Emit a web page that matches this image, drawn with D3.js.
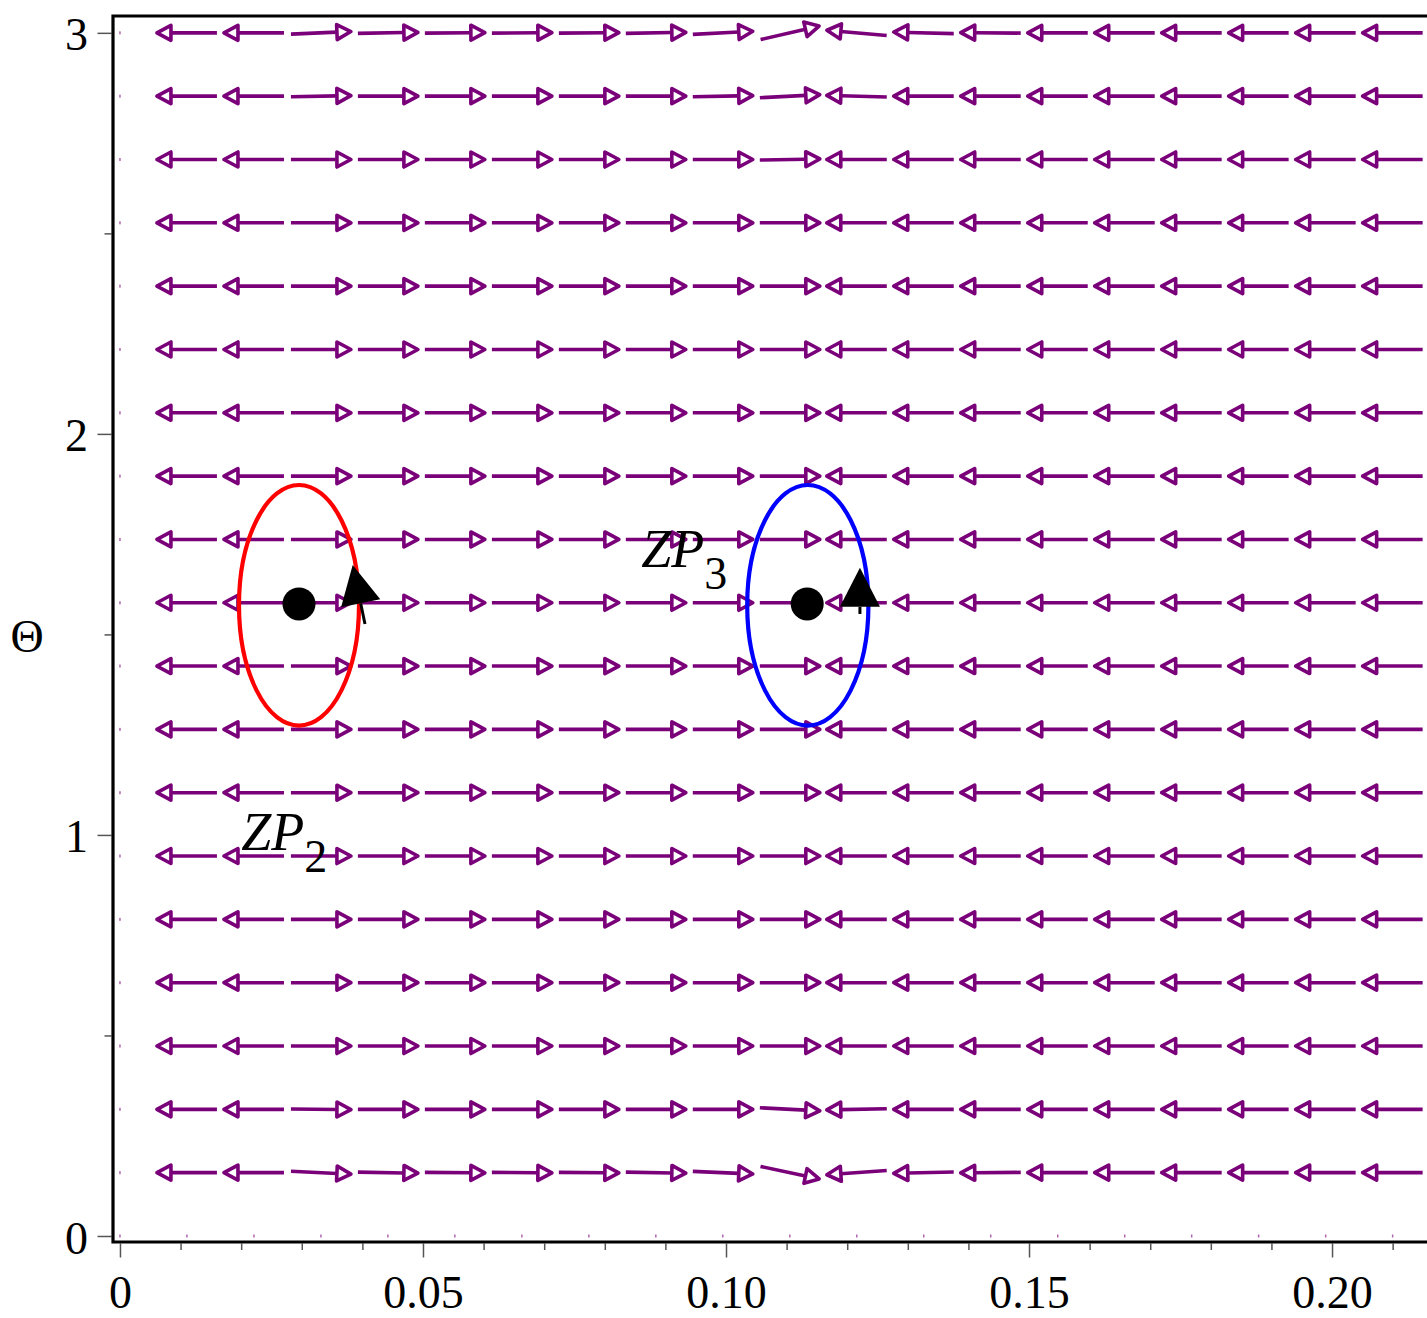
<!DOCTYPE html>
<html lang="en">
<head>
<meta charset="utf-8"/>
<title>Phase portrait ZP2 / ZP3</title>
<script src="https://cdn.jsdelivr.net/npm/d3@7"></script>
<style>
  body { margin: 0; background: #fff; }
  svg { display: block; font-family: "Liberation Serif", "Times New Roman", serif; }
</style>
</head>
<body>
<svg id="chart"></svg>
<script>
const width = 1427
const height = 1318

// grid of the direction field
const xGrid = [0, 0.01105, 0.02211, 0.03316, 0.04421, 0.05526, 0.06632, 0.07737, 0.08842, 0.09947,
               0.11053, 0.12158, 0.13263, 0.14368, 0.15474, 0.16579, 0.17684, 0.18789, 0.19895, 0.21]
const thetaGrid = [0, 0.1579, 0.3158, 0.4737, 0.6316, 0.7895, 0.9474, 1.1053, 1.2632, 1.4211,
                   1.5789, 1.7368, 1.8947, 2.0526, 2.2105, 2.3684, 2.5263, 2.6842, 2.8421, 3.0]
// horizontal sense of the arrows in each column (0 = zero vector, drawn as a dot)
const colDir = [0, -1, -1, 1, 1, 1, 1, 1, 1, 1, 1, -1, -1, -1, -1, -1, -1, -1, -1, -1]
// arrows that are not horizontal: [row, column, degrees] (+ = Theta grows)
const tilts = [
  [19, 3, 2.5], [19, 4, 1], [19, 5, 0.5], [19, 6, 0.5], [19, 7, 0.5], [19, 8, 1], [19, 9, 3],
  [19, 10, 13], [19, 11, 5], [19, 12, 1.5], [19, 13, 0.5],
  [18, 3, 1], [18, 9, 1], [18, 10, 3], [18, 11, 1.5],
  [17, 10, 1],
  [2, 3, -0.5], [2, 10, -3], [2, 11, -1],
  [1, 3, -2.8], [1, 4, -1], [1, 5, -0.5], [1, 6, -0.5], [1, 7, -0.5], [1, 8, -1], [1, 9, -2.5],
  [1, 10, -12], [1, 11, -4], [1, 12, -1.3], [1, 13, -0.5]
]

// closed orbits round the two centres
const orbits = [
  { name: 'ZP2', cx: 0.02954, ct: 1.5725, rx: 0.0099, rt: 0.3, color: '#ff0000' },
  { name: 'ZP3', cx: 0.1135, ct: 1.5725, rx: 0.01, rt: 0.3, color: '#0000ff' }
]
const centres = [
  { x: 0.02954, t: 1.576 },
  { x: 0.1134, t: 1.576 }
]
// direction arrows on the orbits: tail -> tip
const orbitArrows = [
  { x0: 0.04043, t0: 1.526, x1: 0.0384, t1: 1.673 },
  { x0: 0.1221, t0: 1.551, x1: 0.1221, t1: 1.666 }
]
const labels = [
  { x: 0.0200, t: 0.963, main: 'ZP', sub: '2' },
  { x: 0.0860, t: 1.669, main: 'ZP', sub: '3' }
]

const xTicks = [0, 0.05, 0.1, 0.15, 0.2]
const xMinor = [0.01, 0.02, 0.03, 0.04, 0.06, 0.07, 0.08, 0.09, 0.11, 0.12, 0.13, 0.14, 0.16, 0.17, 0.18, 0.19, 0.21]
const yTicks = [0, 1, 2, 3]
const yMinor = [0.5, 1.5, 2.5]

const svg = d3.select('#chart').attr('width', width).attr('height', height)

const x = d3.scaleLinear().domain([-0.00115, 0.21567]).range([113, 1427])
const y = d3.scaleLinear().domain([-0.015, 3.042]).range([1242, 16])

const purple = '#7a007a'
const arrowLen = 60

// tilt lookup
const tiltOf = {}
tilts.forEach(([r, c, deg]) => { tiltOf[r + '_' + c] = deg })

const cells = []
thetaGrid.forEach((t, r) => {
  xGrid.forEach((xv, c) => {
    cells.push({ r, c, x: xv, t })
  })
})

const field = svg.append('g')

// zero vectors -> dots
field.selectAll('rect.dot')
  .data(cells.filter(d => d.r === 0 || colDir[d.c] === 0))
  .enter()
  .append('rect')
  .attr('class', 'dot')
  .attr('x', d => x(d.x) - 0.75)
  .attr('y', d => y(d.t) - 1.5)
  .attr('width', 1.5)
  .attr('height', 3)
  .attr('fill', purple)
  .attr('opacity', 0.6)

function arrowGeom(d) {
  const deg = tiltOf[d.r + '_' + d.c] || 0
  const a = deg * Math.PI / 180
  const vx = colDir[d.c] * Math.cos(a)
  const vy = -Math.sin(a)
  const cx = x(d.x), cy = y(d.t)
  const tip = [cx + vx * arrowLen / 2, cy + vy * arrowLen / 2]
  const tail = [cx - vx * arrowLen / 2, cy - vy * arrowLen / 2]
  const base = [tip[0] - vx * 14, tip[1] - vy * 14]
  const nx = -vy, ny = vx
  return { tip, tail, base, nx, ny }
}

const arrows = field.selectAll('g.arrow')
  .data(cells.filter(d => d.r > 0 && colDir[d.c] !== 0))
  .enter()
  .append('g')
  .attr('class', 'arrow')

arrows.append('path')
  .attr('d', d => {
    const g = arrowGeom(d)
    return `M${g.tail[0]},${g.tail[1]}L${g.base[0]},${g.base[1]}`
  })
  .attr('stroke', purple)
  .attr('stroke-width', 3.6)
  .attr('fill', 'none')

arrows.append('path')
  .attr('d', d => {
    const g = arrowGeom(d)
    const h = 7.5
    return `M${g.tip[0]},${g.tip[1]}` +
      `L${g.base[0] + g.nx * h},${g.base[1] + g.ny * h}` +
      `L${g.base[0] - g.nx * h},${g.base[1] - g.ny * h}Z`
  })
  .attr('stroke', purple)
  .attr('stroke-width', 3.6)
  .attr('stroke-linejoin', 'round')
  .attr('fill', '#fff')

// orbits
svg.append('g')
  .selectAll('ellipse')
  .data(orbits)
  .enter()
  .append('ellipse')
  .attr('cx', d => x(d.cx))
  .attr('cy', d => y(d.ct))
  .attr('rx', d => x(d.cx + d.rx) - x(d.cx))
  .attr('ry', d => y(d.ct - d.rt) - y(d.ct))
  .attr('fill', 'none')
  .attr('stroke', d => d.color)
  .attr('stroke-width', 4.2)

svg.append('g')
  .selectAll('circle')
  .data(centres)
  .enter()
  .append('circle')
  .attr('cx', d => x(d.x))
  .attr('cy', d => y(d.t))
  .attr('r', 16.5)
  .attr('fill', '#000')

// orbit direction arrows
const oa = svg.append('g')
  .selectAll('g')
  .data(orbitArrows)
  .enter()
  .append('g')

function orbitGeom(d) {
  const t0 = [x(d.x0), y(d.t0)], t1 = [x(d.x1), y(d.t1)]
  const len = Math.hypot(t1[0] - t0[0], t1[1] - t0[1])
  const ux = (t1[0] - t0[0]) / len, uy = (t1[1] - t0[1]) / len
  const base = [t1[0] - ux * 39, t1[1] - uy * 39]
  return { t0, t1, ux, uy, base }
}

oa.append('path')
  .attr('d', d => {
    const g = orbitGeom(d)
    return `M${g.t0[0]},${g.t0[1]}L${g.base[0]},${g.base[1]}`
  })
  .attr('stroke', '#000')
  .attr('stroke-width', 3)

oa.append('path')
  .attr('d', d => {
    const g = orbitGeom(d)
    const nx = -g.uy, ny = g.ux, h = 20
    return `M${g.t1[0]},${g.t1[1]}` +
      `L${g.base[0] + nx * h},${g.base[1] + ny * h}` +
      `L${g.base[0] - nx * h},${g.base[1] - ny * h}Z`
  })
  .attr('fill', '#000')

// labels
const lab = svg.append('g')
  .selectAll('text')
  .data(labels)
  .enter()
  .append('text')
  .attr('x', d => x(d.x))
  .attr('y', d => y(d.t))
  .attr('fill', '#000')

lab.append('tspan')
  .attr('font-style', 'italic')
  .attr('font-size', 54)
  .text(d => d.main)

lab.append('tspan')
  .attr('x', d => x(d.x) + 63)
  .attr('dy', 22)
  .attr('font-size', 46)
  .text(d => d.sub)

// axes
const tickColor = '#555'
const xAxis = svg.append('g').attr('transform', 'translate(0,1243.5)')
xAxis.call(d3.axisBottom(x).tickValues(xTicks).tickSize(14)
  .tickFormat(d => d === 0 ? '0' : d3.format('.2f')(d)))
xAxis.select('.domain').remove()
xAxis.selectAll('line').attr('stroke', tickColor).attr('stroke-width', 1.5)
xAxis.selectAll('text')
  .attr('y', 64.5).attr('dy', null)
  .attr('fill', '#000')
  .style('font-family', '"Liberation Serif", serif')
  .style('font-size', '46px')

const xMinorAxis = svg.append('g').attr('transform', 'translate(0,1243.5)')
xMinorAxis.call(d3.axisBottom(x).tickValues(xMinor).tickSize(6.5).tickFormat(''))
xMinorAxis.select('.domain').remove()
xMinorAxis.selectAll('line').attr('stroke', tickColor).attr('stroke-width', 1.5)

const yAxis = svg.append('g').attr('transform', 'translate(111.5,0)')
yAxis.call(d3.axisLeft(y).tickValues(yTicks).tickSize(14).tickPadding(10).tickFormat(d3.format('d')))
yAxis.select('.domain').remove()
yAxis.selectAll('line').attr('stroke', tickColor).attr('stroke-width', 1.5)
yAxis.selectAll('text')
  .attr('dy', '0.37em')
  .attr('x', -23.5)
  .attr('fill', '#000')
  .style('font-family', '"Liberation Serif", serif')
  .style('font-size', '46px')

const yMinorAxis = svg.append('g').attr('transform', 'translate(111.5,0)')
yMinorAxis.call(d3.axisLeft(y).tickValues(yMinor).tickSize(7).tickFormat(''))
yMinorAxis.select('.domain').remove()
yMinorAxis.selectAll('line').attr('stroke', tickColor).attr('stroke-width', 1.5)

// frame (boxed axes)
const [x0, x1] = x.range()
const [yb, yt] = y.range()
svg.append('path')
  .attr('d', `M${x1 + 5},${yt}L${x0},${yt}L${x0},${yb}L${x1 + 5},${yb}`)
  .attr('fill', 'none')
  .attr('stroke', '#000')
  .attr('stroke-width', 3.2)

svg.append('text')
  .attr('x', 27)
  .attr('y', 652)
  .attr('text-anchor', 'middle')
  .attr('font-size', 46)
  .text('Θ')
</script>
</body>
</html>
